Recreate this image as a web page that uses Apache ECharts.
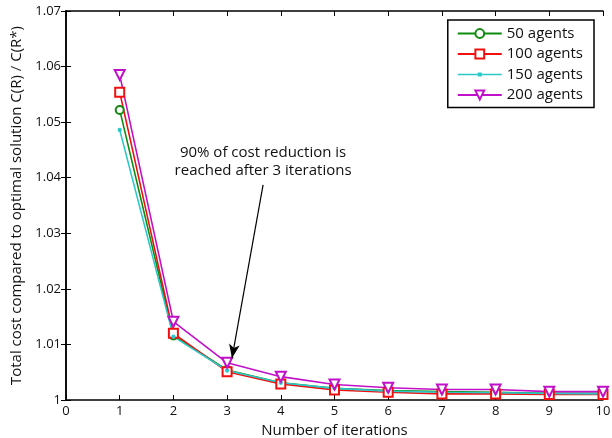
<!DOCTYPE html>
<html>
<head>
<meta charset="utf-8">
<script src="https://cdn.jsdelivr.net/npm/echarts@6/dist/echarts.min.js"></script>
<style>
    html, body { margin: 0; padding: 0; background: #fff; }
    #chart { width: 612px; height: 438px; }
</style>
</head>
<body>
<div id="chart"></div>
<script>
    // iterations 1..10
    const iterations = [1, 2, 3, 4, 5, 6, 7, 8, 9, 10];
    const agents50 = [1.0522, 1.0116, 1.0054, 1.0031, 1.0021, 1.0017, 1.0015, 1.0014, 1.0012, 1.0012];
    const agents100 = [1.0554, 1.0120, 1.0051, 1.0029, 1.0018, 1.0014, 1.0011, 1.0011, 1.0010, 1.0010];
    const agents150 = [1.0486, 1.0114, 1.0053, 1.0031, 1.0021, 1.0016, 1.0014, 1.0013, 1.0012, 1.0011];
    const agents200 = [1.0585, 1.0141, 1.0067, 1.0042, 1.0028, 1.0022, 1.0019, 1.0019, 1.0015, 1.0015];
    const yTicks = [1, 1.01, 1.02, 1.03, 1.04, 1.05, 1.06, 1.07];
    const noteText = '90% of cost reduction is\nreached after 3 iterations';

    function pairs(vals) {
        return iterations.map((it, i) => [it, vals[i]]);
    }

    const font = 'Open Sans';
    let chart = echarts.init(document.getElementById('chart'), null, { renderer: 'canvas' });

    function lineSeries(name, vals, color, symbol, size, extra) {
        return Object.assign({
            name: name,
            type: 'line',
            data: pairs(vals),
            symbol: symbol,
            symbolSize: size,
            showAllSymbol: true,
            lineStyle: { color: color, width: 1.6 },
            itemStyle: { color: color, borderColor: color, borderWidth: 1.3 },
            emphasis: { disabled: true },
            animation: false,
            z: 3
        }, extra || {});
    }

    // legend icon for the 150 series: thin line with a small dot (tiny corner marks keep the box 44x11)
    const dotLineIcon = 'path://M0,0 L0.01,0 L0,0.01 Z M0,11 L0.01,11 L0,10.99 Z M0,4.8 L44,4.8 L44,6.2 L0,6.2 Z M20,3.5 L24,3.5 L24,7.5 L20,7.5 Z';

    let option = {
        animation: false,
        textStyle: { fontFamily: font },
        grid: { left: 66, right: 9, top: 11, bottom: 38, outerBoundsMode: 'none' },
        legend: {
            orient: 'vertical',
            right: 18,
            top: 20,
            itemWidth: 44,
            itemHeight: 11,
            itemGap: 5.5,
            padding: [6, 11, 5, 9],
            borderColor: '#000',
            borderWidth: 1.5,
            borderRadius: 0,
            backgroundColor: '#fff',
            textStyle: { fontFamily: font, fontSize: 15, color: '#111' },
            data: [
                '50 agents',
                '100 agents',
                { name: '150 agents', icon: dotLineIcon, itemStyle: { borderWidth: 0 } },
                '200 agents'
            ]
        },
        xAxis: [{
            type: 'value',
            min: 0, max: 10, interval: 1,
            name: 'Number of iterations',
            nameLocation: 'middle',
            nameGap: 23,
            nameTextStyle: { fontFamily: font, fontSize: 15, color: '#111' },
            axisLine: { lineStyle: { color: '#000', width: 1.5 } },
            axisTick: { inside: true, length: 5, lineStyle: { color: '#000' } },
            axisLabel: { fontFamily: font, fontSize: 13, color: '#111', margin: 5 },
            splitLine: { show: false }
        }, {
            type: 'value',
            position: 'top',
            min: 0, max: 10, interval: 1,
            axisLine: { lineStyle: { color: '#000', width: 1.5 } },
            axisTick: { inside: true, length: 5, lineStyle: { color: '#000' } },
            axisLabel: { show: false },
            splitLine: { show: false }
        }],
        yAxis: [{
            type: 'value',
            min: 1, max: 1.07, interval: 0.01,
            name: 'Total cost compared to optimal solution C(R) / C(R*)',
            nameLocation: 'middle',
            nameGap: 39,
            nameTextStyle: { fontFamily: font, fontSize: 15, color: '#111' },
            axisLine: { show: true, lineStyle: { color: '#000', width: 1.5 } },
            axisTick: { show: true, inside: true, length: 5, lineStyle: { color: '#000' } },
            axisLabel: {
                fontFamily: font, fontSize: 13, color: '#111', margin: 5,
                formatter: function (v) {
                    let best = yTicks.reduce((a, b) => Math.abs(b - v) < Math.abs(a - v) ? b : a);
                    return String(best);
                }
            },
            splitLine: { show: false }
        }, {
            type: 'value',
            position: 'right',
            min: 1, max: 1.07, interval: 0.01,
            axisLine: { show: true, lineStyle: { color: '#000', width: 1.5 } },
            axisTick: { show: true, inside: true, length: 5, lineStyle: { color: '#000' } },
            axisLabel: { show: false },
            splitLine: { show: false }
        }],
        series: [
            lineSeries('50 agents', agents50, '#118a11', 'emptyCircle', 8),
            lineSeries('100 agents', agents100, '#f01010', 'emptyRect', 9),
            lineSeries('150 agents', agents150, '#2cc8c8', 'circle', 3),
            lineSeries('200 agents', agents200, '#c010c8', 'emptyTriangle', 10, {
                symbolRotate: 180,
                markLine: {
                    silent: true,
                    animation: false,
                    symbol: ['none', 'arrow'],
                    symbolSize: [8, 14],
                    lineStyle: { color: '#000', width: 1.2, type: 'solid' },
                    label: { show: false },
                    data: [[{ coord: [3.67, 1.0387] }, { coord: [3.09, 1.0075] }]]
                },
                markPoint: {
                    silent: true,
                    symbol: 'circle',
                    symbolSize: 0,
                    label: {
                        show: true,
                        position: 'inside',
                        formatter: noteText,
                        fontFamily: font,
                        fontSize: 15,
                        lineHeight: 18,
                        color: '#111',
                        align: 'center'
                    },
                    data: [{ coord: [3.67, 1.0429] }]
                }
            })
        ]
    };
    chart.setOption(option);
</script>
</body>
</html>
